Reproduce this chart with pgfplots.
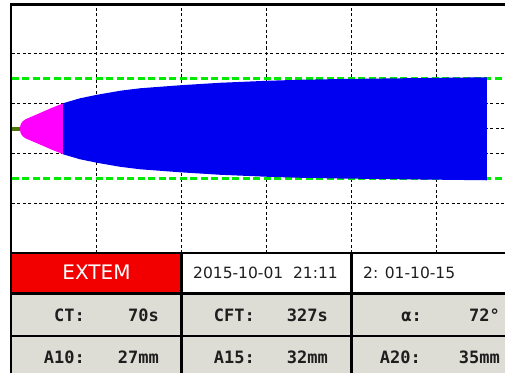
\documentclass[border=0pt]{standalone}
\usepackage{pgfplots}
\pgfplotsset{compat=1.18}
\usepackage{fontspec}
\setmainfont{DejaVu Sans}
\newfontfamily\monofont{DejaVu Sans Mono}

\definecolor{trace}{RGB}{0,0,240}
\definecolor{ctphase}{RGB}{255,0,255}
\definecolor{refgreen}{RGB}{0,235,0}
\definecolor{baseg}{RGB}{75,120,0}
\definecolor{hdrred}{RGB}{242,0,0}
\definecolor{cellgray}{RGB}{221,220,213}
\definecolor{txt}{RGB}{30,30,30}

\begin{document}
\begin{tikzpicture}[x=1pt,y=1pt]
\useasboundingbox (0,0) rectangle (505,373);

% ---- EXTEM trace: time in minutes, amplitude in mm ----
\begin{axis}[
  at={(11.5pt,120pt)}, anchor=south west,
  scale only axis, width=493.5pt, height=248.7pt,
  xmin=0, xmax=58.06, ymin=-49.7, ymax=49.8,
  xtick={10,20,30,40,50}, ytick={-30,-10,0,10,30},
  xticklabels={}, yticklabels={},
  major tick length=0pt,
  grid=major,
  grid style={black, line width=1pt, dash pattern=on 3pt off 2.5pt},
  axis line style={draw=none},
]
% reference limits
\addplot[refgreen, line width=3pt, dash pattern=on 7pt off 3.5pt] coordinates {(0,20) (60,20)};
\addplot[refgreen, line width=3pt, dash pattern=on 7pt off 3.5pt] coordinates {(0,-20) (60,-20)};
% baseline up to CT
\addplot[baseg, line width=3.5pt] coordinates {(0,0) (1.1,0)};
% clot initiation (CT -> CFT)
\addplot[fill=ctphase, draw=none] coordinates {
  (0.98,0) (1.05,1.4) (1.15,2.2) (1.35,3.1) (1.7,3.9) (3.35,6.3) (4.76,8.4) (6.1,10.2)
  (6.1,-10.2) (4.76,-8.4) (3.35,-6.3) (1.7,-3.9) (1.35,-3.1) (1.15,-2.2) (1.05,-1.4)
} -- cycle;
% clot firmness
\addplot[fill=trace, draw=none] coordinates {
  (6.06,10.2) (8.06,12.2) (10.06,13.6) (12.76,15.2) (15.12,16.2) (19.82,17.4)
  (24.53,18.4) (30.06,19.2) (33.94,19.6) (38.65,19.9) (45.71,20.2) (55.94,20.6)
  (55.94,-20.6) (45.71,-20.2) (38.65,-19.9) (33.94,-19.6) (30.06,-19.2) (24.53,-18.4)
  (19.82,-17.4) (15.12,-16.2) (12.76,-15.2) (10.06,-13.6) (8.06,-12.2) (6.06,-10.2)
} -- cycle;
\end{axis}

% ---- frame ----
\draw[black, line width=2.6pt] (11,0) -- (11,368.7) -- (510,368.7);

% ---- result table ----
\fill[hdrred] (11,79.5) rectangle (181.5,120);
\fill[white] (181.5,79.5) rectangle (510,120);
\fill[cellgray] (11,0) rectangle (510,79.5);
\draw[black, line width=2.6pt] (11,120) -- (510,120);
\draw[black, line width=2.6pt] (11,79.5) -- (510,79.5);
\draw[black, line width=2.6pt] (11,37) -- (510,37);
\draw[black, line width=2.6pt] (181.5,0) -- (181.5,120);
\draw[black, line width=2.6pt] (351.5,0) -- (351.5,120);
\draw[black, line width=2.6pt] (11,0) -- (11,120);

\node[anchor=base, white, inner sep=0pt, font=\fontsize{20}{20}\selectfont] at (96.5,93.7) {EXTEM};
\node[anchor=base, txt, inner sep=0pt, font=\fontsize{15.5}{15.5}\selectfont] at (265.5,94.7) {2015-10-01\ \ 21:11};
\node[anchor=base west, txt, inner sep=0pt, font=\fontsize{15.5}{15.5}\selectfont] at (363,94.7) {2: 01-10-15};

\begin{scope}[every node/.style={anchor=base east, inner sep=0pt, txt, font=\monofont\bfseries\fontsize{17}{17}\selectfont}]
\node at (85,51.3) {CT:};
\node at (159,51.3) {70s};
\node at (255,51.3) {CFT:};
\node at (328,51.3) {327s};
\node at (422,51.3) {α:};
\node at (500,51.3) {72°};
\node at (85,9.7) {A10:};
\node at (159,9.7) {27mm};
\node at (255,9.7) {A15:};
\node at (328,9.7) {32mm};
\node at (421,9.7) {A20:};
\node at (500,9.7) {35mm};
\end{scope}
\end{tikzpicture}
\end{document}
